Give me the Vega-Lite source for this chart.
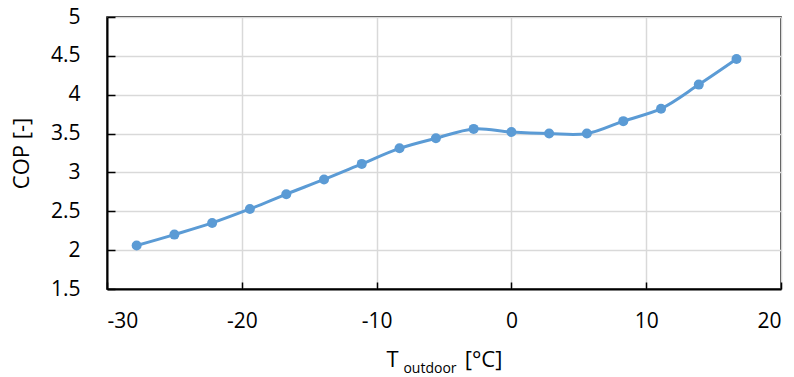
{
  "$schema": "https://vega.github.io/schema/vega-lite/v6.json",
  "width": 674,
  "height": 272,
  "autosize": "none",
  "padding": {"left": 107, "top": 17, "right": 13, "bottom": 88},
  "background": "white",
  "config": {
    "font": "Open Sans",
    "view": {"stroke": "black", "strokeWidth": 1.5},
    "axis": {
      "gridColor": "#d9d9d9",
      "gridWidth": 1.5,
      "domainColor": "black",
      "domainWidth": 2,
      "tickColor": "black",
      "tickWidth": 1.5,
      "labelColor": "black",
      "titleColor": "black",
      "labelFont": "Open Sans",
      "titleFont": "Open Sans",
      "labelFontSize": 21,
      "titleFontSize": 22,
      "titleFontWeight": "normal",
      "labelExpr": "datum.value + ''"
    }
  },
  "title": {
    "text": "outdoor",
    "orient": "bottom",
    "anchor": "middle",
    "fontSize": 14,
    "fontWeight": "normal",
    "font": "Open Sans",
    "color": "black",
    "dx": -14,
    "offset": -8
  },
  "data": {
    "values": [
      {"T": -27.8, "COP": 2.06},
      {"T": -25.0, "COP": 2.20},
      {"T": -22.2, "COP": 2.35},
      {"T": -19.4, "COP": 2.53},
      {"T": -16.7, "COP": 2.72},
      {"T": -13.9, "COP": 2.91},
      {"T": -11.1, "COP": 3.11},
      {"T": -8.3, "COP": 3.31},
      {"T": -5.6, "COP": 3.44},
      {"T": -2.8, "COP": 3.56},
      {"T": 0.0, "COP": 3.52},
      {"T": 2.8, "COP": 3.50},
      {"T": 5.6, "COP": 3.50},
      {"T": 8.3, "COP": 3.66},
      {"T": 11.1, "COP": 3.82},
      {"T": 13.9, "COP": 4.13},
      {"T": 16.7, "COP": 4.46}
    ]
  },
  "encoding": {
    "x": {
      "field": "T",
      "type": "quantitative",
      "scale": {"domain": [-30, 20], "nice": false, "zero": false},
      "axis": {
        "values": [-30, -20, -10, 0, 10, 20],
        "tickSize": -7,
        "labelPadding": 28,
        "title": "T\u2003\u2003\u2002\u2002[°C]",
        "titlePadding": 18
      }
    },
    "y": {
      "field": "COP",
      "type": "quantitative",
      "scale": {"domain": [1.5, 5], "nice": false, "zero": false},
      "axis": {
        "values": [1.5, 2, 2.5, 3, 3.5, 4, 4.5, 5],
        "tickSize": -8,
        "labelPadding": 35,
        "title": "COP [-]",
        "titlePadding": 17
      }
    }
  },
  "layer": [
    {
      "mark": {"type": "line", "color": "#5b9bd5", "strokeWidth": 3, "interpolate": "catmull-rom"}
    },
    {
      "mark": {"type": "point", "filled": true, "color": "#5b9bd5", "size": 100, "opacity": 1}
    }
  ]
}
